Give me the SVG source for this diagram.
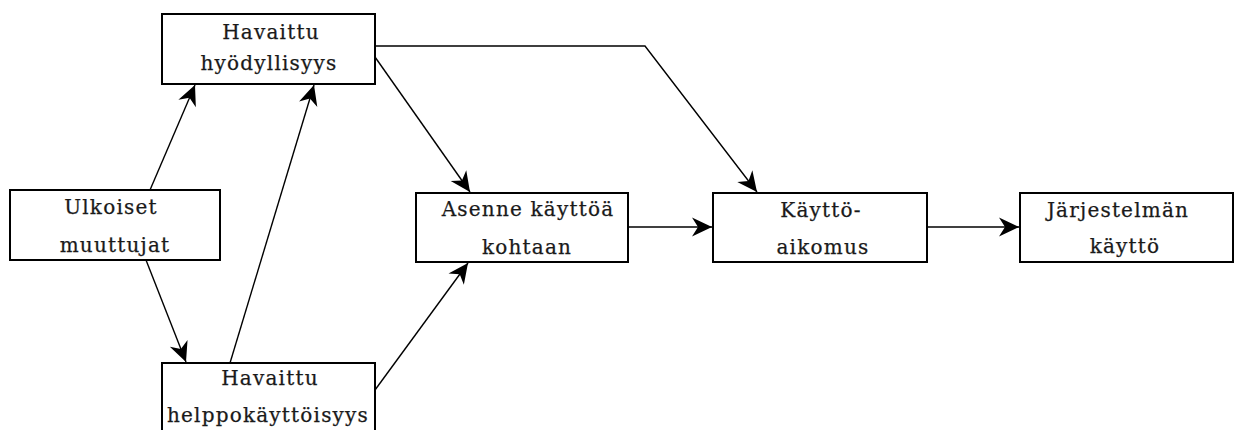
<svg xmlns="http://www.w3.org/2000/svg" width="1239" height="430" viewBox="0 0 1239 430">
  <style>
    .box { fill: #ffffff; stroke: #000000; stroke-width: 2; }
    .lbl { font-family: "DejaVu Serif", "Liberation Serif", serif; font-size: 20px; fill: #1a1a1a; stroke: #1a1a1a; stroke-width: 0.25; text-anchor: middle; letter-spacing: 1.2px; }
    .conn { fill: none; stroke: #000000; stroke-width: 1.4; }
  </style>
  <defs>
    <marker id="arrow" viewBox="-22 -11 24 22" refX="0" refY="0" markerWidth="24" markerHeight="22" markerUnits="userSpaceOnUse" orient="auto">
      <path d="M0,0 L-20,-9.5 L-14,0 L-20,9.5 Z" fill="#000000"/>
    </marker>
  </defs>
  <rect width="1239" height="430" fill="#ffffff"/>

  <!-- connectors -->
  <g id="connectors">
    <line class="conn" x1="150" y1="190" x2="195" y2="85" marker-end="url(#arrow)"/>
    <line class="conn" x1="146" y1="260" x2="186" y2="362" marker-end="url(#arrow)"/>
    <line class="conn" x1="230" y1="363" x2="314" y2="85" marker-end="url(#arrow)"/>
    <line class="conn" x1="375" y1="57" x2="470" y2="192" marker-end="url(#arrow)"/>
    <line class="conn" x1="375" y1="390" x2="468" y2="263" marker-end="url(#arrow)"/>
    <polyline class="conn" points="375,46 645,46 757,192" marker-end="url(#arrow)"/>
    <line class="conn" x1="628" y1="227" x2="712" y2="227" marker-end="url(#arrow)"/>
    <line class="conn" x1="927" y1="227" x2="1019" y2="227" marker-end="url(#arrow)"/>
  </g>

  <g id="node-hyodyllisyys">
    <rect class="box" x="162" y="14" width="213" height="70"/>
    <text class="lbl" x="271" y="39">Havaittu</text>
    <text class="lbl" x="269" y="70">hyödyllisyys</text>
  </g>

  <g id="node-ulkoiset">
    <rect class="box" x="10" y="190" width="210" height="70"/>
    <text class="lbl" x="111" y="214">Ulkoiset</text>
    <text class="lbl" x="115" y="252">muuttujat</text>
  </g>

  <g id="node-helppokayttoisyys">
    <rect class="box" x="162" y="363" width="213" height="80"/>
    <text class="lbl" x="270" y="385">Havaittu</text>
    <text class="lbl" x="268" y="422">helppokäyttöisyys</text>
  </g>

  <g id="node-asenne">
    <rect class="box" x="416" y="193" width="212" height="69"/>
    <text class="lbl" x="528" y="216">Asenne käyttöä</text>
    <text class="lbl" x="527" y="254">kohtaan</text>
  </g>

  <g id="node-kayttoaikomus">
    <rect class="box" x="713" y="193" width="214" height="69"/>
    <text class="lbl" x="821" y="217">Käyttö-</text>
    <text class="lbl" x="823" y="254">aikomus</text>
  </g>

  <g id="node-kaytto">
    <rect class="box" x="1020" y="193" width="213" height="69"/>
    <text class="lbl" x="1118" y="217">Järjestelmän</text>
    <text class="lbl" x="1125" y="253">käyttö</text>
  </g>
</svg>
